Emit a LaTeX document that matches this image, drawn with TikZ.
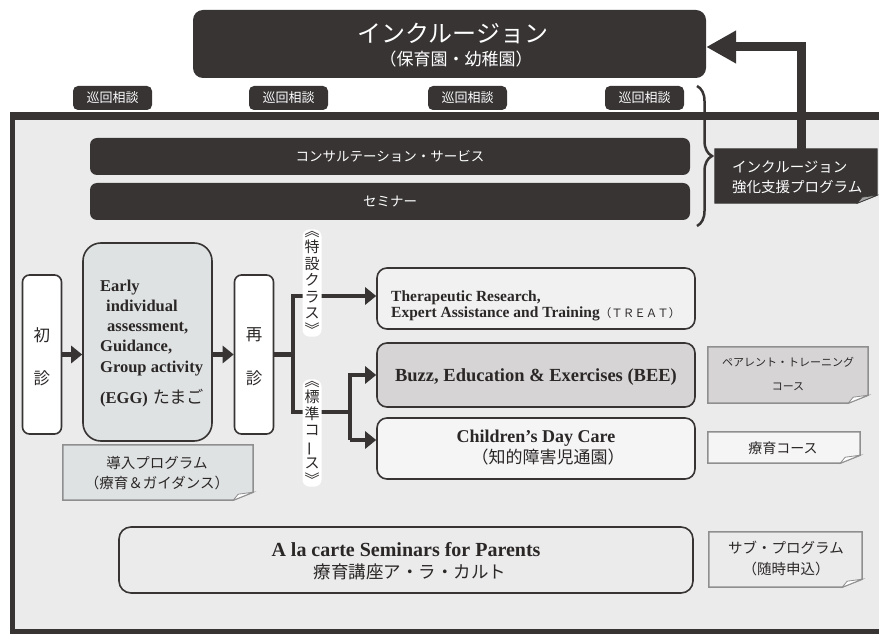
\documentclass[tikz,border=0pt]{standalone}
\usepackage{fontspec}
\setmainfont{Liberation Serif}
\newfontfamily\jp{Noto Sans CJK JP}
\usetikzlibrary{arrows.meta,decorations.pathreplacing,calc}
\definecolor{dk}{HTML}{383434}
\definecolor{tx}{HTML}{2B2727}
\definecolor{bg}{HTML}{EBEBEB}
\definecolor{eggfill}{HTML}{DFE2E3}
\definecolor{treatfill}{HTML}{F1F1F1}
\definecolor{beefill}{HTML}{D6D4D5}
\definecolor{cdcfill}{HTML}{F5F5F5}
\definecolor{ngray}{HTML}{8F8F8F}
\tikzset{
  darkbox/.style={fill=dk, rounded corners=10pt, inner sep=0pt},
  jk/.style={fill=dk, text=white, rounded corners=5pt, minimum width=79pt, minimum height=24pt, inner sep=0pt, font=\jp\fontsize{13}{13}\selectfont},
  darkbar/.style={fill=dk, text=white, rounded corners=7pt, minimum width=600pt, minimum height=37pt, inner sep=0pt, font=\jp\fontsize{13.5}{13.5}\selectfont},
  vbx/.style={draw=dk, line width=1.6pt, fill=white, rounded corners=7pt, inner sep=0pt, minimum width=39pt, minimum height=159pt},
  prog/.style={draw=dk, line width=1.6pt, rounded corners=10pt, inner sep=0pt, minimum width=318pt},
  txt/.style={inner sep=0pt, text=tx},
  jtxt/.style={txt, font=\jp\fontsize{14.5}{14.5}\selectfont},
  eggt/.style={txt, anchor=base west, font=\bfseries\fontsize{16.5}{16.5}\selectfont},
  kanji/.style={txt, font=\jp\fontsize{16.5}{16.5}\selectfont},
  vlab/.style={txt, fill=white, rounded corners=7pt, inner xsep=2pt, inner ysep=1.5pt, align=center, font=\jp\fontsize{15}{16.5}\selectfont},
  conn/.style={draw=dk, line width=4.5pt, -{Triangle[length=11pt,width=17pt]}},
  link/.style={draw=dk, line width=4.5pt, line join=miter},
  bigarrow/.style={draw=dk, line width=9pt, -{Triangle[length=30pt,width=31pt]}}
}
\newcommand\notebox[8]{%
  \node[minimum width=#4pt, minimum height=#5pt, inner sep=0pt] (#1) at (#2,#3) {};
  \filldraw[fill=#6, draw=#7, line width=1.5pt] (#1.north west) -- (#1.north east) -- ($(#1.south east)+(0,-8)$) -- ($(#1.south east)+(-20,0)$) -- (#1.south west) -- cycle;
  \filldraw[fill=#8, draw=#7, line width=0.8pt] ($(#1.south east)+(0,-8)$) -- ($(#1.south east)+(-20,0)$) -- ($(#1.south east)+(-15,-6)$) -- cycle;
}
\begin{document}
\begin{tikzpicture}[x=1pt,y=-1pt]
\useasboundingbox (0,0) rectangle (879,636);
% frame
\fill[bg] (12.5,116) rectangle (890,631.5);
\draw[dk, line width=5pt] (890,631.5) -- (12.5,631.5) -- (12.5,113.5);
\draw[dk, line width=8pt] (10,116) -- (890,116);

% top inclusion box
\node[darkbox, minimum width=513pt, minimum height=68pt] (incl) at (449.5,44) {};
\node[txt, text=white, font=\jp\fontsize{24}{24}\selectfont] (inclA) at (453,33) {インクルージョン};
\node[txt, text=white, font=\jp\fontsize{17}{17}\selectfont] (inclB) at (456,59) {（保育園・幼稚園）};

% patrol consultation labels
\node[jk] (jk1) at (112.5,98) {巡回相談};
\node[jk] (jk2) at (288.5,98) {巡回相談};
\node[jk] (jk3) at (467.5,98) {巡回相談};
\node[jk] (jk4) at (644.5,98) {巡回相談};

% bars
\node[darkbar] (consult) at (390,156.5) {コンサルテーション・サービス};
\node[darkbar] (seminar) at (390,201.5) {セミナー};

% brace
\draw[dk, line width=2.5pt, decorate, decoration={brace, amplitude=15pt}] (697,86) -- (697,226);

% arrow to top box
\node[minimum width=162pt, minimum height=54pt, inner sep=0pt] (incl2) at (796,176) {};
\draw[bigarrow] ($(incl2.north)+(5,4)$) |- ($(incl.east)+(0,3)$);
\filldraw[fill=dk, draw=dk, line width=1pt] (incl2.north west) -- (incl2.north east) -- ($(incl2.south east)+(0,-8)$) -- ($(incl2.south east)+(-20,0)$) -- (incl2.south west) -- cycle;
\filldraw[fill=gray!70, draw=dk, line width=0.6pt] ($(incl2.south east)+(0,-8)$) -- ($(incl2.south east)+(-20,0)$) -- ($(incl2.south east)+(-15,-6)$) -- cycle;
\node[txt, text=white, anchor=west, align=left, font=\jp\fontsize{14.5}{20}\selectfont] (incl2t) at (732,177) {インクルージョン\\強化支援プログラム};

% first visit
\node[vbx] (shoshin) at (42,354.5) {};
\node[kanji] (sh1) at (42,335) {初};
\node[kanji] (sh2) at (42,378) {診};

% EGG
\node[draw=dk, line width=1.6pt, fill=eggfill, rounded corners=18pt, minimum width=129pt, minimum height=198pt, inner sep=0pt] (egg) at (147.5,342) {};
\node[eggt] (e1) at (100,292) {Early};
\node[eggt] (e2) at (106,312) {individual};
\node[eggt] (e3) at (107,332) {assessment,};
\node[eggt] (e4) at (100,352) {Guidance,};
\node[eggt] (e5) at (100,373) {Group activity};
\node[eggt] (e6) at (100,404) {(EGG)\hspace{5pt}{\mdseries\jp\fontsize{17}{17}\selectfont たまご}};

% re-visit
\node[vbx] (saishin) at (254,354.5) {};
\node[kanji] (sa1) at (254,335) {再};
\node[kanji] (sa2) at (254,378) {診};

% programme boxes
\node[prog, fill=treatfill, minimum height=61pt] (treat) at (536,298.5) {};
\node[txt, anchor=base west, font=\bfseries\fontsize{15.5}{15.5}\selectfont] (treat1) at (391,302) {Therapeutic Research,};
\node[txt, anchor=base west, font=\bfseries\fontsize{15.5}{15.5}\selectfont] (treat2) at (391,318) {Expert Assistance and Training{\mdseries\jp\fontsize{11.5}{11.5}\selectfont（ＴＲＥＡＴ）}};

\node[prog, fill=beefill, minimum height=64pt] (bee) at (536,375) {};
\node[txt, font=\bfseries\fontsize{18.5}{18.5}\selectfont] (beet) at (536,377) {Buzz, Education \& Exercises (BEE)};

\node[prog, fill=cdcfill, minimum height=61pt] (cdc) at (536,448.5) {};
\node[txt, font=\bfseries\fontsize{18}{18}\selectfont] (cdc1) at (536,438) {Children’s Day Care};
\node[txt, font=\jp\fontsize{17}{17}\selectfont] (cdc2) at (548,457) {（知的障害児通園）};

% connectors
\draw[conn] (shoshin.east) -- (shoshin.east -| egg.west);
\draw[conn] (egg.east |- saishin.east) -- (saishin.west);
\coordinate (ja) at (293,296);
\coordinate (jb) at (293,412);
\coordinate (jc) at (350,375);
\coordinate (jd) at (350,440);
\draw[link] (saishin.east) -- (saishin.east -| ja);
\draw[conn, line join=miter] (jb -| jc) -- (jb) -- (ja) -- (ja -| treat.west);
\draw[conn, line join=miter] (jd) -- (jc) -- (jc -| bee.west);
\draw[conn] (jd) -- (jd -| cdc.west);

% vertical labels
\node[vlab] (tokusetsu) at (312,283) {︽\\特\\設\\ク\\ラ\\ス\\︾};
\node[vlab] (hyoujun) at (312,433) {︽\\標\\準\\コ\\\rotatebox[origin=c]{90}{ー}\\ス\\︾};

% notes
\notebox{intro}{158}{472.5}{190}{55}{eggfill}{ngray}{white}
\node[jtxt] (intro1) at (157,463) {導入プログラム};
\node[jtxt] (intro2) at (157,483) {（療育＆ガイダンス）};

\notebox{parent}{788}{375}{160}{56}{beefill}{ngray}{white}
\node[txt, font=\jp\fontsize{11}{11}\selectfont] (parent1) at (788,362) {ペアレント・トレーニング};
\node[txt, font=\jp\fontsize{11}{11}\selectfont] (parent2) at (788,387) {コース};

\notebox{ryoiku}{784}{447.5}{152}{31}{cdcfill}{ngray}{white}
\node[txt, font=\jp\fontsize{14}{14}\selectfont] (ryoikut) at (783,448) {療育コース};

% a la carte
\node[draw=dk, line width=1.6pt, fill=bg, rounded corners=12pt, minimum width=574pt, minimum height=66pt, inner sep=0pt] (alc) at (406,560) {};
\node[txt, font=\bfseries\fontsize{20}{20}\selectfont] (alc1) at (406,550) {A la carte Seminars for Parents};
\node[txt, font=\jp\fontsize{17.5}{17.5}\selectfont] (alc2) at (410,572) {療育講座ア・ラ・カルト};

\notebox{sub}{785.5}{559.5}{153}{55}{bg}{ngray}{white}
\node[jtxt] (sub1) at (786,548) {サブ・プログラム};
\node[jtxt] (sub2) at (786,569) {（随時申込）};
\end{tikzpicture}
\end{document}
